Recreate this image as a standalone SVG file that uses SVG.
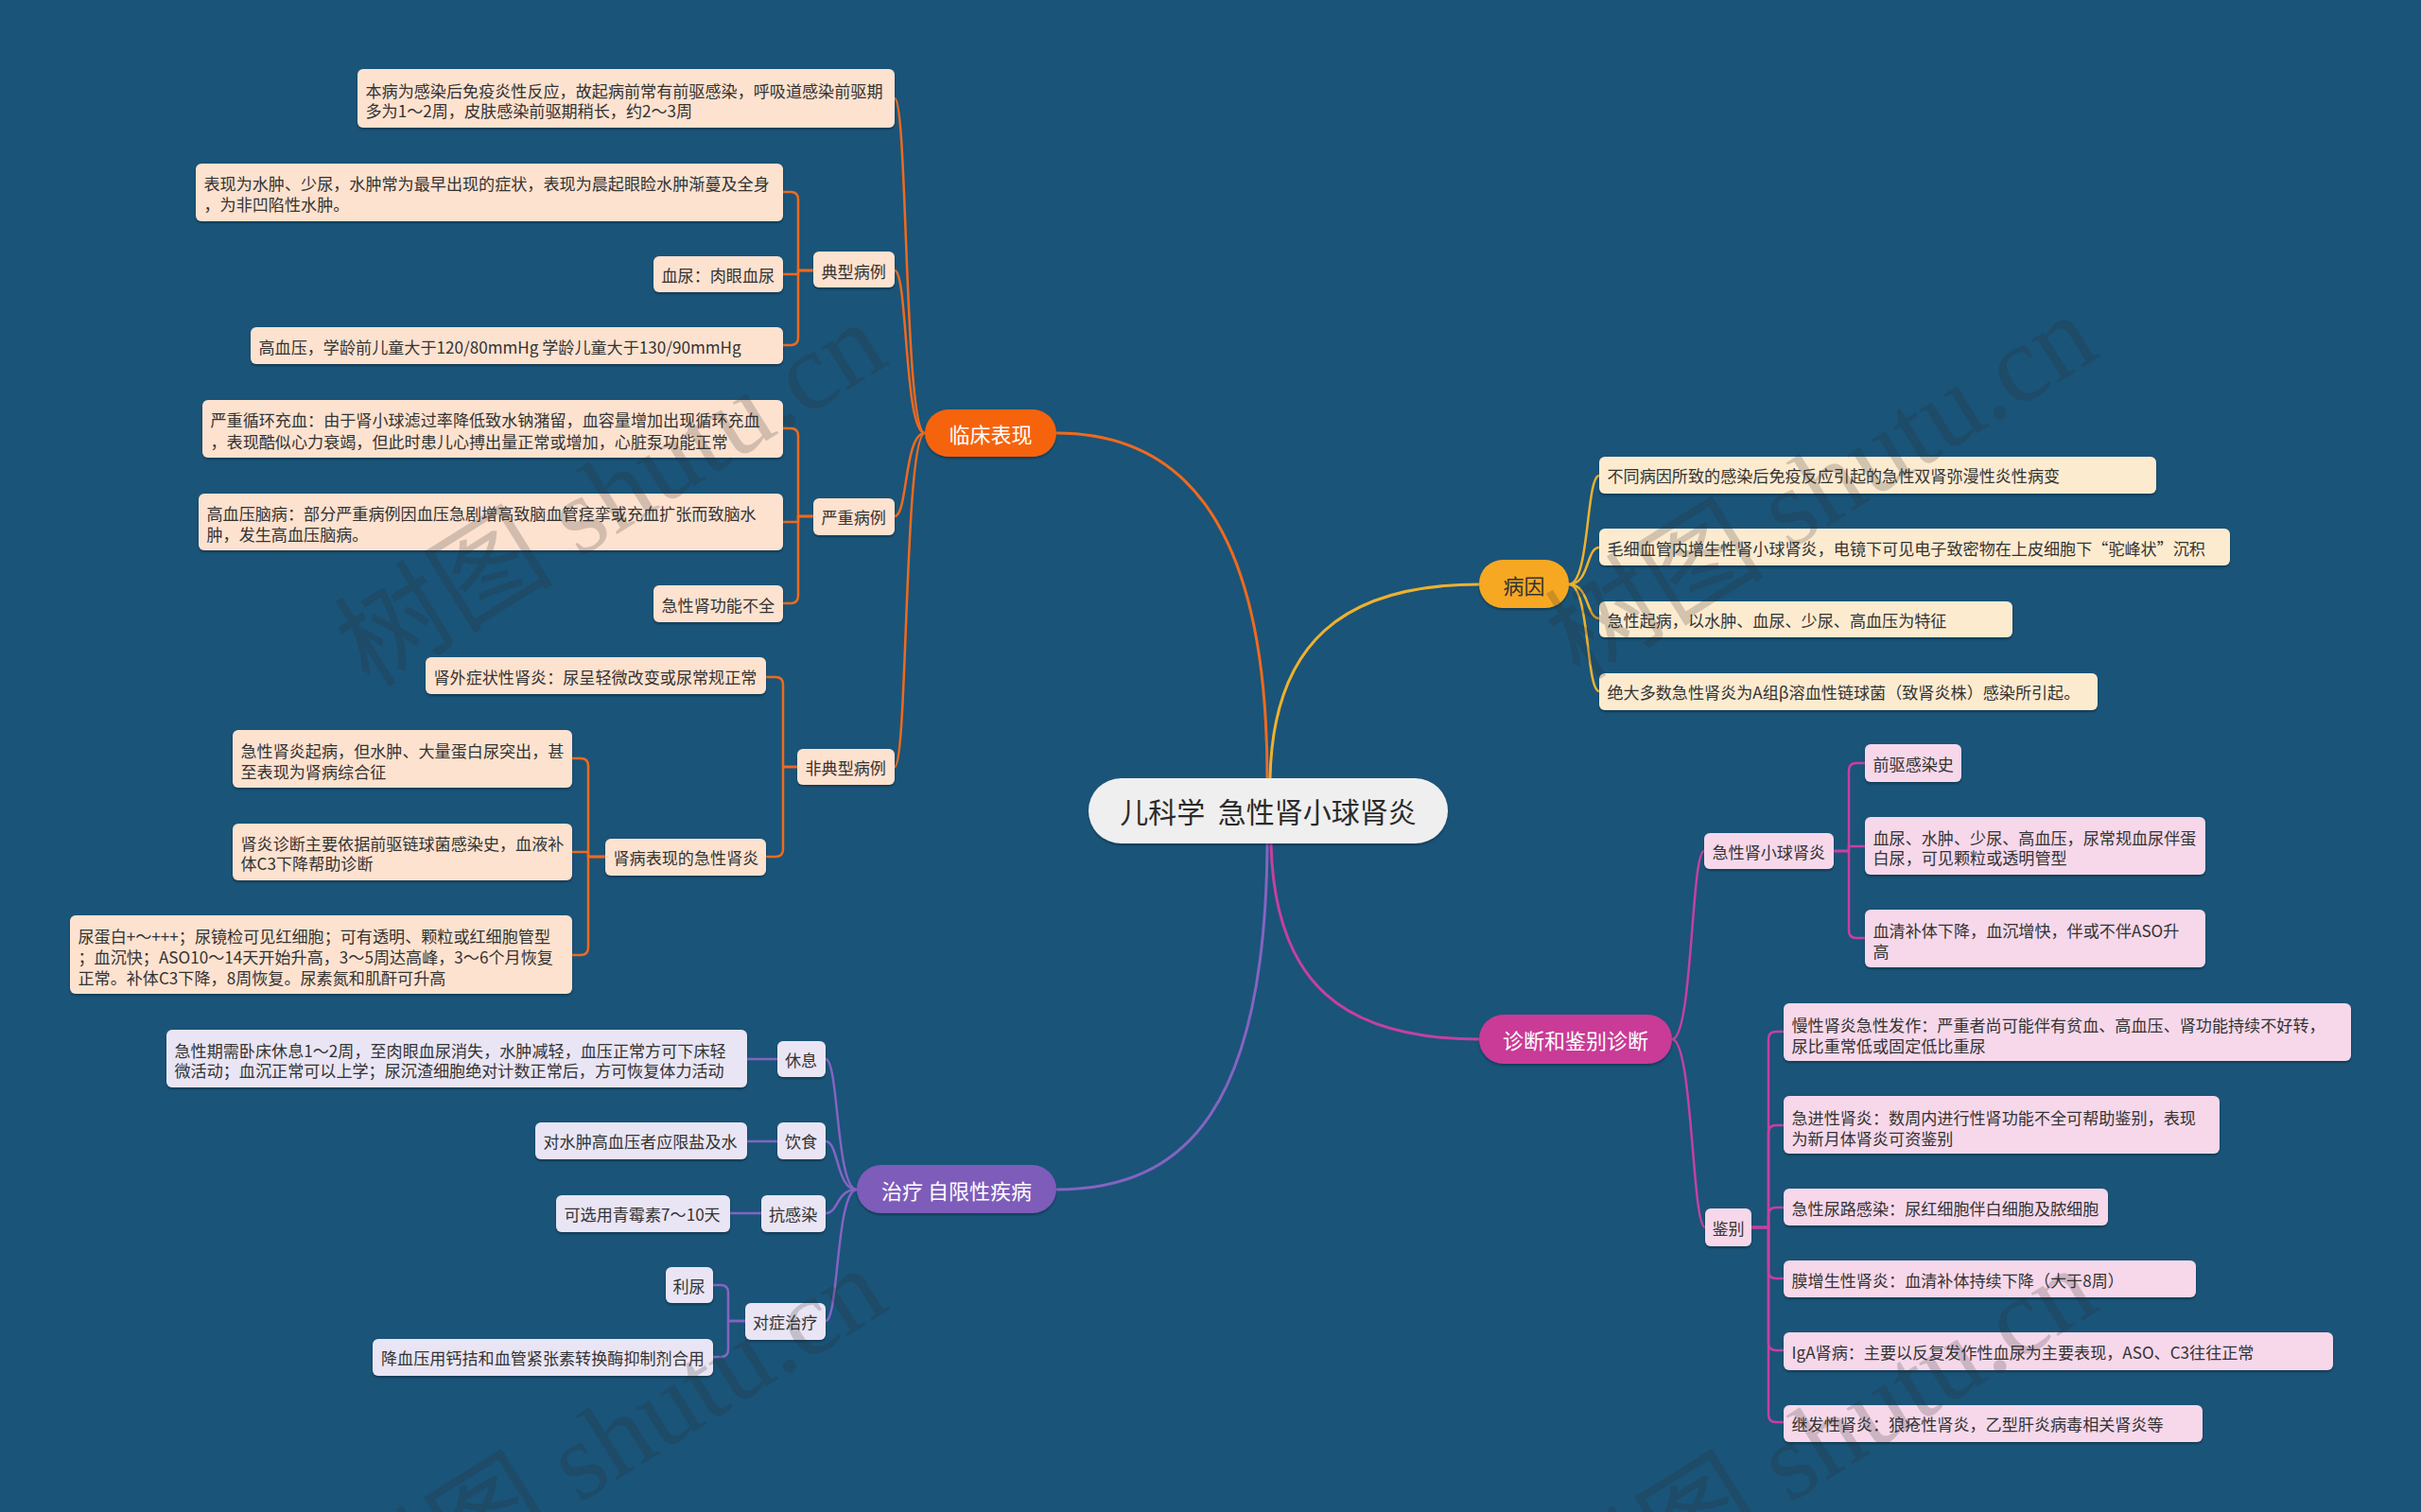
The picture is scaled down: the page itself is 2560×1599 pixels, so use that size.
<svg xmlns="http://www.w3.org/2000/svg" width="2560" height="1599" viewBox="0 0 2560 1599">
<style>
.t{font-family:"Noto Sans CJK SC","Noto Sans",sans-serif;font-size:17.1px;fill:#333;dominant-baseline:central}
.m{font-family:"Noto Sans CJK SC","Noto Sans",sans-serif;font-size:22px;fill:#fff;dominant-baseline:central;text-anchor:middle}
.peach{fill:#fde2cf}
.cream{fill:#fdebd0}
.pink{fill:#f6d8ea}
.lav{fill:#e9e5f4}
.c{fill:none;stroke-width:2.5;stroke-linecap:round;stroke-linejoin:round}
.or{stroke:#ef6a1e}
.ye{stroke:#eeb12f}
.mg{stroke:#c640a0}
.pu{stroke:#8464c2}
.wm{font-family:"Liberation Serif","Noto Sans CJK SC",serif;font-size:116px;fill:#2a2a2a;opacity:0.2;text-anchor:middle;dominant-baseline:central}
</style>
<defs>
<filter id="sh" x="-5%" y="-20%" width="110%" height="150%">
<feDropShadow dx="0" dy="2" stdDeviation="1.2" flood-color="#000" flood-opacity="0.3"/>
</filter>
</defs>
<rect width="2560" height="1599" fill="#1a5478"/>

<g id="connectors">
<path class="c" style="stroke-width:3" stroke="#ef6a1e" d="M1340,823 C1340,560 1255,458 1117,458"/>
<path class="c" style="stroke-width:3" stroke="#eeb12f" d="M1343,823 C1346,680 1420,618 1564,618"/>
<path class="c" style="stroke-width:3" stroke="#c640a0" d="M1344,893 C1348,1040 1420,1099 1564,1099"/>
<path class="c" style="stroke-width:3" stroke="#8464c2" d="M1340,893 C1338,1170 1255,1258 1117,1258"/>

<path class="c or" d="M978,458 C956,458 960,104 946,104"/>
<path class="c or" d="M978,458 C956,458 960,286 946,286"/>
<path class="c or" d="M978,458 C956,458 960,546 946,546"/>
<path class="c or" d="M978,458 C956,458 960,811 946,811"/>

<path class="c or" d="M860,286 H844 V211 Q844,203 836,203 H828"/>
<path class="c or" d="M860,286 H844 V290 H828"/>
<path class="c or" d="M860,286 H844 V357 Q844,365 836,365 H828"/>
<path class="c or" d="M860,546 H844 V461 Q844,453 836,453 H828"/>
<path class="c or" d="M860,546 H844 V552 H828"/>
<path class="c or" d="M860,546 H844 V630 Q844,638 836,638 H828"/>
<path class="c or" d="M843,811 H828 V724 Q828,716 820,716 H810"/>
<path class="c or" d="M843,811 H828 V898 Q828,906 820,906 H810"/>
<path class="c or" d="M640,906 H622 V810 Q622,802 614,802 H605"/>
<path class="c or" d="M640,906 H622 V901 H605"/>
<path class="c or" d="M640,906 H622 V1002 Q622,1010 614,1010 H605"/>

<path class="c ye" d="M1659,618 C1681,618 1677,503 1691,503"/>
<path class="c ye" d="M1659,618 C1681,618 1677,579 1691,579"/>
<path class="c ye" d="M1659,618 C1681,618 1677,654 1691,654"/>
<path class="c ye" d="M1659,618 C1681,618 1677,731 1691,731"/>

<path class="c mg" d="M1768,1099 C1790,1099 1788,900 1802,900"/>
<path class="c mg" d="M1768,1099 C1790,1099 1789,1298 1803,1298"/>
<path class="c mg" d="M1939,900 H1955 V815 Q1955,807 1963,807 H1972"/>
<path class="c mg" d="M1939,900 H1955 V895 H1972"/>
<path class="c mg" d="M1939,900 H1955 V984 Q1955,992 1963,992 H1972"/>
<path class="c mg" d="M1852,1298 H1870 V1099 Q1870,1091 1878,1091 H1886"/>
<path class="c mg" d="M1852,1298 H1870 V1198 Q1870,1190 1878,1190 H1886"/>
<path class="c mg" d="M1852,1298 H1870 V1285 Q1870,1277 1878,1277 H1886"/>
<path class="c mg" d="M1852,1298 H1870 V1344 Q1870,1352 1878,1352 H1886"/>
<path class="c mg" d="M1852,1298 H1870 V1420 Q1870,1428 1878,1428 H1886"/>
<path class="c mg" d="M1852,1298 H1870 V1496 Q1870,1504 1878,1504 H1886"/>

<path class="c pu" d="M906,1258 C884,1258 887,1120 873,1120"/>
<path class="c pu" d="M906,1258 C884,1258 887,1207 873,1207"/>
<path class="c pu" d="M906,1258 C884,1258 887,1283 873,1283"/>
<path class="c pu" d="M906,1258 C884,1258 887,1397 873,1397"/>
<path class="c pu" d="M822,1120 H790"/>
<path class="c pu" d="M822,1207 H790"/>
<path class="c pu" d="M805,1283 H772"/>
<path class="c pu" d="M788,1397 H770 V1367 Q770,1359 762,1359 H754"/>
<path class="c pu" d="M788,1397 H770 V1427 Q770,1435 762,1435 H754"/>
</g>

<g id="center">
<rect x="1151" y="823" width="380" height="69" rx="34.5" fill="#efefef" filter="url(#sh)"/>
<text class="t" x="1341" y="857" xml:space="preserve" style="font-size:30px;text-anchor:middle;fill:#2b2b2b">儿科学  急性肾小球肾炎</text>
</g>

<g id="n-clinical"><rect x="978" y="433" width="139" height="50" rx="25" fill="#f6640f" filter="url(#sh)"/><text class="m" x="1047.5" y="458">临床表现</text></g>
<g id="n-cause"><rect x="1564" y="592" width="95" height="51" rx="25" fill="#f7a823" filter="url(#sh)"/><text class="m" x="1611.5" y="617.5" style="fill:#333">病因</text></g>
<g id="n-diag"><rect x="1564" y="1073" width="204" height="52" rx="26" fill="#c93a96" filter="url(#sh)"/><text class="m" x="1666" y="1099">诊断和鉴别诊断</text></g>
<g id="n-treat"><rect x="906" y="1232" width="211" height="51" rx="25.5" fill="#7d5cba" filter="url(#sh)"/><text class="m" x="1011.5" y="1258">治疗 自限性疾病</text></g>

<g id="n-a"><rect class="peach" x="378" y="73" width="568" height="62" rx="6" filter="url(#sh)"/><text class="t" x="386.5" y="95">本病为感染后免疫炎性反应，故起病前常有前驱感染，呼吸道感染前驱期</text><text class="t" x="386.5" y="116.7">多为1～2周，皮肤感染前驱期稍长，约2～3周</text></g>
<g id="n-typical"><rect class="peach" x="860" y="266" width="86" height="38" rx="6" filter="url(#sh)"/><text class="t" x="868.5" y="286">典型病例</text></g>
<g id="n-edema"><rect class="peach" x="207" y="173" width="621" height="61" rx="6" filter="url(#sh)"/><text class="t" x="215.5" y="193.3">表现为水肿、少尿，水肿常为最早出现的症状，表现为晨起眼睑水肿渐蔓及全身</text><text class="t" x="215.5" y="215">，为非凹陷性水肿。</text></g>
<g id="n-hematuria"><rect class="peach" x="691" y="271" width="137" height="38" rx="6" filter="url(#sh)"/><text class="t" x="699.5" y="290">血尿：肉眼血尿</text></g>
<g id="n-hyper"><rect class="peach" x="265" y="346" width="563" height="39" rx="6" filter="url(#sh)"/><text class="t" x="273.5" y="366.5">高血压，学龄前儿童大于120/80mmHg 学龄儿童大于130/90mmHg</text></g>
<g id="n-severe"><rect class="peach" x="860" y="527" width="86" height="39" rx="6" filter="url(#sh)"/><text class="t" x="868.5" y="546">严重病例</text></g>
<g id="n-circ"><rect class="peach" x="214" y="423" width="614" height="61" rx="6" filter="url(#sh)"/><text class="t" x="222.5" y="443.3">严重循环充血：由于肾小球滤过率降低致水钠潴留，血容量增加出现循环充血</text><text class="t" x="222.5" y="466">，表现酷似心力衰竭，但此时患儿心搏出量正常或增加，心脏泵功能正常</text></g>
<g id="n-enceph"><rect class="peach" x="210" y="522" width="618" height="60" rx="6" filter="url(#sh)"/><text class="t" x="218.5" y="542.7">高血压脑病：部分严重病例因血压急剧增高致脑血管痉挛或充血扩张而致脑水</text><text class="t" x="218.5" y="564">肿，发生高血压脑病。</text></g>
<g id="n-arf"><rect class="peach" x="691" y="619" width="137" height="39" rx="6" filter="url(#sh)"/><text class="t" x="699.5" y="639">急性肾功能不全</text></g>
<g id="n-atypical"><rect class="peach" x="843" y="792" width="103" height="38" rx="6" filter="url(#sh)"/><text class="t" x="851.5" y="811">非典型病例</text></g>
<g id="n-extra"><rect class="peach" x="450" y="695" width="360" height="39" rx="6" filter="url(#sh)"/><text class="t" x="458.5" y="715.5">肾外症状性肾炎：尿呈轻微改变或尿常规正常</text></g>
<g id="n-nephrotic"><rect class="peach" x="640" y="887" width="170" height="39" rx="6" filter="url(#sh)"/><text class="t" x="648.5" y="906.5">肾病表现的急性肾炎</text></g>
<g id="n-nep1"><rect class="peach" x="246" y="772" width="359" height="61" rx="6" filter="url(#sh)"/><text class="t" x="254.5" y="793.3">急性肾炎起病，但水肿、大量蛋白尿突出，甚</text><text class="t" x="254.5" y="815">至表现为肾病综合征</text></g>
<g id="n-nep2"><rect class="peach" x="246" y="871" width="359" height="60" rx="6" filter="url(#sh)"/><text class="t" x="254.5" y="891.7">肾炎诊断主要依据前驱链球菌感染史，血液补</text><text class="t" x="254.5" y="912.7">体C3下降帮助诊断</text></g>
<g id="n-nep3"><rect class="peach" x="74" y="968" width="531" height="83" rx="6" filter="url(#sh)"/><text class="t" x="82.5" y="989">尿蛋白+～+++；尿镜检可见红细胞；可有透明、颗粒或红细胞管型</text><text class="t" x="82.5" y="1011.2">；血沉快；ASO10～14天开始升高，3～5周达高峰，3～6个月恢复</text><text class="t" x="82.5" y="1033.3">正常。补体C3下降，8周恢复。尿素氮和肌酐可升高</text></g>

<g id="n-c1"><rect class="cream" x="1691" y="483" width="589" height="39" rx="6" filter="url(#sh)"/><text class="t" x="1699.5" y="502.5">不同病因所致的感染后免疫反应引起的急性双肾弥漫性炎性病变</text></g>
<g id="n-c2"><rect class="cream" x="1691" y="559" width="667" height="39" rx="6" filter="url(#sh)"/><text class="t" x="1699.5" y="579">毛细血管内增生性肾小球肾炎，电镜下可见电子致密物在上皮细胞下“驼峰状”沉积</text></g>
<g id="n-c3"><rect class="cream" x="1691" y="636" width="437" height="38" rx="6" filter="url(#sh)"/><text class="t" x="1699.5" y="655">急性起病，以水肿、血尿、少尿、高血压为特征</text></g>
<g id="n-c4"><rect class="cream" x="1691" y="712" width="527" height="39" rx="6" filter="url(#sh)"/><text class="t" x="1699.5" y="731">绝大多数急性肾炎为A组β溶血性链球菌（致肾炎株）感染所引起。</text></g>

<g id="n-agn"><rect class="pink" x="1802" y="881" width="137" height="38" rx="6" filter="url(#sh)"/><text class="t" x="1810.5" y="900">急性肾小球肾炎</text></g>
<g id="n-agn1"><rect class="pink" x="1972" y="787" width="102" height="40" rx="6" filter="url(#sh)"/><text class="t" x="1980.5" y="807">前驱感染史</text></g>
<g id="n-agn2"><rect class="pink" x="1972" y="864" width="360" height="61" rx="6" filter="url(#sh)"/><text class="t" x="1980.5" y="885">血尿、水肿、少尿、高血压，尿常规血尿伴蛋</text><text class="t" x="1980.5" y="906.7">白尿，可见颗粒或透明管型</text></g>
<g id="n-agn3"><rect class="pink" x="1972" y="962" width="360" height="61" rx="6" filter="url(#sh)"/><text class="t" x="1980.5" y="983">血清补体下降，血沉增快，伴或不伴ASO升</text><text class="t" x="1980.5" y="1005">高</text></g>
<g id="n-diff"><rect class="pink" x="1803" y="1278" width="49" height="40" rx="6" filter="url(#sh)"/><text class="t" x="1810.5" y="1298">鉴别</text></g>
<g id="n-d1"><rect class="pink" x="1886" y="1061" width="600" height="61" rx="6" filter="url(#sh)"/><text class="t" x="1894.5" y="1083">慢性肾炎急性发作：严重者尚可能伴有贫血、高血压、肾功能持续不好转，</text><text class="t" x="1894.5" y="1105">尿比重常低或固定低比重尿</text></g>
<g id="n-d2"><rect class="pink" x="1886" y="1159" width="461" height="61" rx="6" filter="url(#sh)"/><text class="t" x="1894.5" y="1181.7">急进性肾炎：数周内进行性肾功能不全可帮助鉴别，表现</text><text class="t" x="1894.5" y="1203.3">为新月体肾炎可资鉴别</text></g>
<g id="n-d3"><rect class="pink" x="1886" y="1257" width="343" height="39" rx="6" filter="url(#sh)"/><text class="t" x="1894.5" y="1277">急性尿路感染：尿红细胞伴白细胞及脓细胞</text></g>
<g id="n-d4"><rect class="pink" x="1886" y="1333" width="436" height="39" rx="6" filter="url(#sh)"/><text class="t" x="1894.5" y="1353">膜增生性肾炎：血清补体持续下降（大于8周）</text></g>
<g id="n-d5"><rect class="pink" x="1886" y="1409" width="581" height="40" rx="6" filter="url(#sh)"/><text class="t" x="1894.5" y="1429">IgA肾病：主要以反复发作性血尿为主要表现，ASO、C3往往正常</text></g>
<g id="n-d6"><rect class="pink" x="1886" y="1486" width="443" height="39" rx="6" filter="url(#sh)"/><text class="t" x="1894.5" y="1505.5">继发性肾炎：狼疮性肾炎，乙型肝炎病毒相关肾炎等</text></g>

<g id="n-rest-d"><rect class="lav" x="176" y="1089" width="614" height="61" rx="6" filter="url(#sh)"/><text class="t" x="184.5" y="1110">急性期需卧床休息1～2周，至肉眼血尿消失，水肿减轻，血压正常方可下床轻</text><text class="t" x="184.5" y="1131.7">微活动；血沉正常可以上学；尿沉渣细胞绝对计数正常后，方可恢复体力活动</text></g>
<g id="n-rest"><rect class="lav" x="822" y="1101" width="51" height="38" rx="6" filter="url(#sh)"/><text class="t" x="830" y="1120">休息</text></g>
<g id="n-diet-d"><rect class="lav" x="566" y="1187" width="224" height="39" rx="6" filter="url(#sh)"/><text class="t" x="574.5" y="1206.7">对水肿高血压者应限盐及水</text></g>
<g id="n-diet"><rect class="lav" x="822" y="1187" width="51" height="39" rx="6" filter="url(#sh)"/><text class="t" x="830" y="1206.7">饮食</text></g>
<g id="n-anti-d"><rect class="lav" x="588" y="1264" width="184" height="39" rx="6" filter="url(#sh)"/><text class="t" x="596.5" y="1283.3">可选用青霉素7～10天</text></g>
<g id="n-anti"><rect class="lav" x="805" y="1264" width="68" height="39" rx="6" filter="url(#sh)"/><text class="t" x="813" y="1283.3">抗感染</text></g>
<g id="n-sym"><rect class="lav" x="788" y="1378" width="85" height="39" rx="6" filter="url(#sh)"/><text class="t" x="796" y="1397.5">对症治疗</text></g>
<g id="n-diur"><rect class="lav" x="704" y="1340" width="50" height="38" rx="6" filter="url(#sh)"/><text class="t" x="711.5" y="1359">利尿</text></g>
<g id="n-bp"><rect class="lav" x="394" y="1416" width="360" height="39" rx="6" filter="url(#sh)"/><text class="t" x="403" y="1435.5">降血压用钙拮和血管紧张素转换酶抑制剂合用</text></g>

<g id="watermarks">
<text class="wm" transform="translate(646,523) rotate(-32)">树图 shutu.cn</text>
<text class="wm" transform="translate(1926,515) rotate(-32)">树图 shutu.cn</text>
<text class="wm" transform="translate(646,1523) rotate(-32)">树图 shutu.cn</text>
<text class="wm" transform="translate(1926,1523) rotate(-32)">树图 shutu.cn</text>
</g>
</svg>
